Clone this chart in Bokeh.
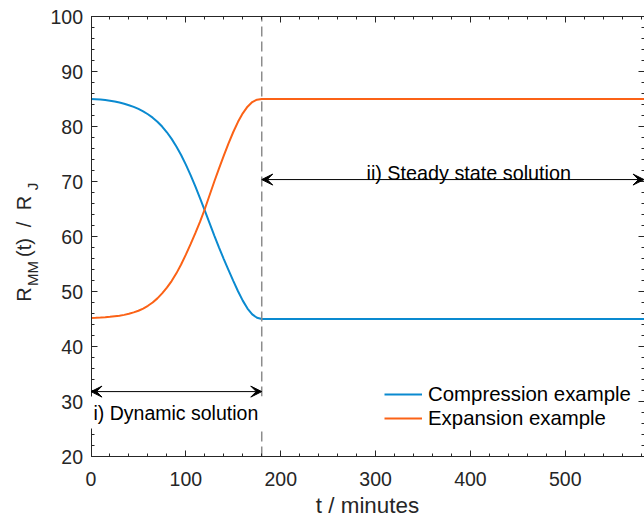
from bokeh.plotting import figure
from bokeh.models import (Range1d, LinearAxis, SingleIntervalTicker, FixedTicker, Arrow,
                          VeeHead, Label, Legend, LegendItem, CustomLabelingPolicy)
from bokeh.embed import file_html
from bokeh.resources import INLINE

# ---------------- data ----------------
t_dynamic = [0, 5, 10, 15, 20, 25, 30, 35, 40, 45, 50, 55, 60, 65, 70, 75, 80, 85, 90,
             95, 100, 105, 110, 115, 120, 125, 130, 135, 140, 145, 150, 155, 160, 165,
             170, 175, 180]
compression = [85.0, 84.97, 84.9, 84.8, 84.68, 84.53, 84.35, 84.13, 83.87, 83.56, 83.19,
               82.75, 82.23, 81.61, 80.87, 79.99, 78.95, 77.75, 76.37, 74.81, 73.07, 71.17,
               69.12, 66.95, 64.7, 62.42, 60.17, 57.99, 55.89, 53.89, 51.94, 50.04, 48.34,
               46.89, 45.84, 45.22, 45.0]
expansion = [45.2, 45.22, 45.27, 45.33, 45.4, 45.5, 45.6, 45.75, 45.95, 46.2, 46.5, 46.9,
             47.4, 48.0, 48.75, 49.65, 50.7, 51.9, 53.3, 54.9, 56.7, 58.6, 60.6, 62.7,
             65.0, 67.5, 70.0, 72.4, 74.7, 76.95, 79.0, 80.85, 82.4, 83.6, 84.45, 84.88, 85.0]
t_end = 583
compression_steady = 45.0
expansion_steady = 85.0
switch_time = 180
arrow_dynamic_level = 31.8
arrow_steady_level = 70.35

x_min, x_max = 0, t_end
y_min, y_max = 20, 100
x_tick_step, y_tick_step = 100, 10

t_all = t_dynamic + [t_end]
comp_all = compression + [compression_steady]
exp_all = expansion + [expansion_steady]

# ---------------- styling ----------------
FONT = "Liberation Sans"
AX = "#262626"
BLUE = "#0a8ad0"
ORANGE = "#fb6216"

W, H = 644, 518
# pixel box of the axes in the reference
FX0, FX1 = 90.5, 643.5
FY0, FY1 = 16.0, 456.0
SX = (FX1 - FX0) / (x_max - x_min)      # px per minute
SY = (FY1 - FY0) / (y_max - y_min)      # px per unit

# the frame covers the whole canvas; the axes box is drawn with fixed-location axes
view_x = (x_min - FX0 / SX, x_max + (W - FX1) / SX)
view_y = (y_min - (H - FY1) / SY, y_max + FY0 / SY)


def dx(px):
    return x_min + (px - FX0) / SX


def dy(py):
    return y_max - (py - FY0) / SY


p = figure(width=W, height=H, x_range=Range1d(*view_x), y_range=Range1d(*view_y),
           x_axis_location=None, y_axis_location=None,
           output_backend="svg", toolbar_location=None,
           min_border_left=0, min_border_right=0, min_border_top=0, min_border_bottom=0,
           background_fill_color="white", border_fill_color="white", outline_line_color=None)
p.xgrid.visible = False
p.ygrid.visible = False

hide_labels = CustomLabelingPolicy(code="return []")


def style(ax, labels=True, size="19.5px"):
    ax.axis_line_color = AX
    ax.axis_line_width = 1
    ax.major_tick_line_color = AX
    ax.minor_tick_line_color = AX
    ax.major_tick_in = 6
    ax.major_tick_out = 0
    ax.minor_tick_in = 3
    ax.minor_tick_out = 0
    ax.major_label_text_font = FONT
    ax.major_label_text_color = AX
    ax.major_label_text_font_size = size
    if not labels:
        ax.major_label_text_font_size = "0px"
        ax.major_label_standoff = 0
        ax.major_label_policy = hide_labels


def text_only(ax, size, standoff, color=AX):
    ax.axis_line_color = None
    ax.major_tick_line_color = None
    ax.minor_tick_line_color = None
    ax.major_tick_in = 0
    ax.major_tick_out = 0
    ax.minor_tick_in = 0
    ax.minor_tick_out = 0
    ax.major_label_text_font = FONT
    ax.major_label_text_color = color
    ax.major_label_text_font_size = size
    ax.major_label_standoff = standoff


def xticker():
    return SingleIntervalTicker(interval=x_tick_step, num_minor_ticks=5)


def yticker():
    return SingleIntervalTicker(interval=y_tick_step, num_minor_ticks=5)


# box axes
bottom = LinearAxis(fixed_location=y_min, bounds=(x_min, x_max), ticker=xticker())
style(bottom)
bottom.major_label_standoff = 15
p.add_layout(bottom, "below")

top = LinearAxis(fixed_location=y_max, bounds=(x_min, x_max), ticker=xticker())
style(top, labels=False)
p.add_layout(top, "above")

left = LinearAxis(fixed_location=x_min, bounds=(y_min, y_max), ticker=yticker())
style(left)
left.major_label_standoff = 8
p.add_layout(left, "left")

right = LinearAxis(fixed_location=x_max, bounds=(y_min, y_max), ticker=yticker())
style(right, labels=False)
p.add_layout(right, "right")

# x axis title, centred under the box
xlab_pos = round(dx((FX0 + FX1) / 2), 3)
xlab = LinearAxis(fixed_location=y_min, ticker=FixedTicker(ticks=[xlab_pos]),
                  major_label_overrides={xlab_pos: "t / minutes"})
text_only(xlab, "22.4px", 36)
p.add_layout(xlab, "below")

# y axis title R_MM(t) / R_J : main pieces and subscripts, rotated
main_pieces = {round(dy(294), 3): "R", round(dy(247), 3): "(t)",
               round(dy(224), 3): "/", round(dy(202.5), 3): "R"}
sub_pieces = {round(dy(273), 3): "MM", round(dy(186), 3): "J"}

ylab_main = LinearAxis(fixed_location=x_min, ticker=FixedTicker(ticks=list(main_pieces)),
                       major_label_overrides=main_pieces, major_label_orientation="vertical")
text_only(ylab_main, "20px", 56)
p.add_layout(ylab_main, "left")

ylab_sub = LinearAxis(fixed_location=x_min, ticker=FixedTicker(ticks=list(sub_pieces)),
                      major_label_overrides=sub_pieces, major_label_orientation="vertical")
text_only(ylab_sub, "15px", 50)
p.add_layout(ylab_sub, "left")

# ---------------- lines ----------------
r_comp = p.line(t_all, comp_all, line_color=BLUE, line_width=2)
r_exp = p.line(t_all, exp_all, line_color=ORANGE, line_width=2)

# text with a white box (covers the axis line, as in the reference)
p.add_layout(Label(x=dx(88), y=dy(412), text="i) Dynamic solution", text_font=FONT,
                   text_font_size="19.5px", text_color="black", text_baseline="alphabetic",
                   background_fill_color="white", padding=5))

# dashed separator at the switch time
p.segment(x0=[switch_time], y0=[y_min], x1=[switch_time], y1=[y_max],
          line_color="#8c8c8c", line_width=1.5, line_dash="10 5")

# ---------------- arrows ----------------
def head():
    return VeeHead(size=11, fill_color="black", line_color="black", line_width=1)


p.add_layout(Arrow(x_start=x_min, y_start=arrow_dynamic_level, x_end=switch_time,
                   y_end=arrow_dynamic_level, start=head(), end=head(),
                   line_color="black", line_width=1))
p.add_layout(Arrow(x_start=switch_time, y_start=arrow_steady_level, x_end=t_end,
                   y_end=arrow_steady_level, start=head(), end=head(),
                   line_color="black", line_width=1))

p.add_layout(Label(x=dx(366), y=dy(172), text="ii) Steady state solution", text_font=FONT,
                   text_font_size="19.8px", text_color="black", text_baseline="alphabetic"))

# ---------------- legend ----------------
legend = Legend(items=[LegendItem(label="Compression example", renderers=[r_comp]),
                       LegendItem(label="Expansion example", renderers=[r_exp])],
                location=(384, 88), glyph_width=38, glyph_height=24, label_height=24,
                label_standoff=6, spacing=0, padding=0, margin=0,
                label_text_font=FONT, label_text_font_size="20.4px", label_text_color="black",
                border_line_alpha=0, background_fill_alpha=0)
p.add_layout(legend)

open("out.html", "w").write(file_html(p, INLINE))
